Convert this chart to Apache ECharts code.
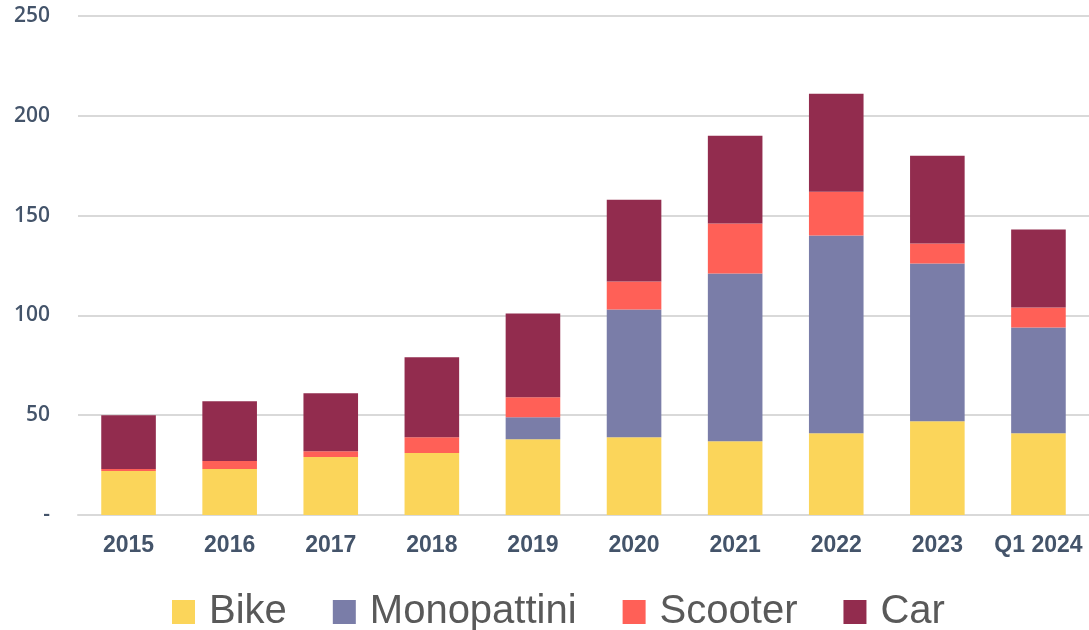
<!DOCTYPE html>
<html>
<head>
<meta charset="utf-8">
<script src="https://cdn.jsdelivr.net/npm/echarts@6/dist/echarts.min.js"></script>
<style>
  html, body { margin: 0; padding: 0; background: #fff; }
  #chart { width: 1089px; height: 630px; }
</style>
</head>
<body>
<div id="chart"></div>
<script>
var years = ['2015', '2016', '2017', '2018', '2019', '2020', '2021', '2022', '2023', 'Q1 2024'];
var bike = [22, 23, 29, 31, 38, 39, 37, 41, 47, 41];
var monopattini = [0, 0, 0, 0, 11, 64, 84, 99, 79, 53];
var scooter = [1, 4, 3, 8, 10, 14, 25, 22, 10, 10];
var car = [27, 30, 29, 40, 42, 41, 44, 49, 44, 39];

var chartDom = document.getElementById('chart');
var myChart = echarts.init(chartDom);
var option;

function bar(name, data, color) {
    return {
        name: name,
        type: 'bar',
        stack: 'total',
        barWidth: '54%',
        data: data,
        itemStyle: { color: color }
    };
}

option = {
    animation: false,
    textStyle: { fontFamily: 'Liberation Sans, Arial, sans-serif' },
    grid: { left: 78, right: 0, top: 16, bottom: 115 },
    legend: {
        top: 592,
        left: 172,
        padding: 0,
        icon: 'rect',
        itemWidth: 23,
        itemHeight: 24,
        itemGap: 46,
        textStyle: { fontSize: 40, color: '#595959', padding: [0, 0, 0, 9] },
        data: ['Bike', 'Monopattini', 'Scooter', 'Car']
    },
    xAxis: {
        type: 'category',
        data: years,
        axisLine: { lineStyle: { color: '#d9d9d9', width: 2 } },
        axisTick: { show: false },
        axisLabel: { color: '#44546a', fontSize: 23, fontWeight: 'bold', margin: 19, interval: 0 }
    },
    yAxis: {
        type: 'value',
        min: 0,
        max: 250,
        interval: 50,
        axisLine: { show: false },
        axisTick: { show: false },
        splitLine: { lineStyle: { color: '#d9d9d9', width: 2 } },
        axisLabel: {
            color: '#44546a',
            fontSize: 21,
            fontFamily: 'Open Sans, Liberation Sans, sans-serif',
            fontWeight: 600,
            margin: 28,
            formatter: function (v) { return v === 0 ? '-' : v; }
        }
    },
    series: [
        bar('Bike', bike, '#fbd55a'),
        bar('Monopattini', monopattini, '#7a7da8'),
        bar('Scooter', scooter, '#ff6057'),
        bar('Car', car, '#922c4e')
    ]
};

option && myChart.setOption(option);
</script>
</body>
</html>
